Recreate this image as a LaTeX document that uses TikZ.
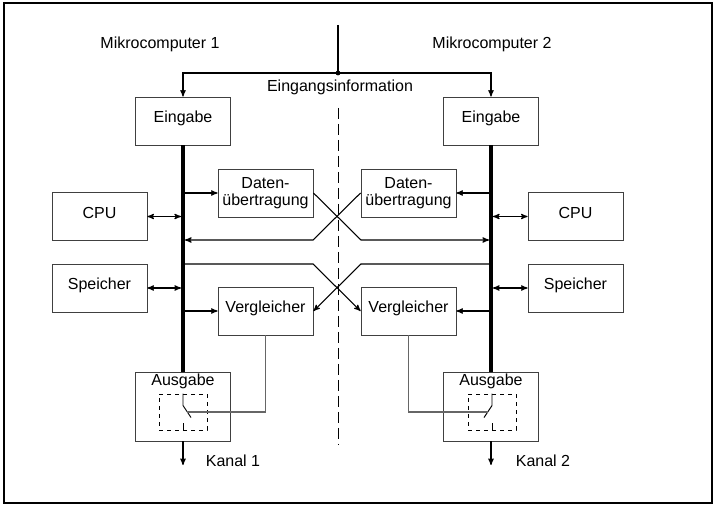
\documentclass[tikz,border=0pt]{standalone}
\usepackage{fontspec}
\setmainfont{Liberation Sans}
\usepackage{tikz}
\usetikzlibrary{positioning}
\usetikzlibrary{arrows}

\tikzset{
  block/.style={draw=black!75, line width=0.7pt, minimum width=71.25pt, minimum height=36pt, align=center, inner sep=1pt},
  label block/.style={block, text height=9pt, text depth=6.5pt},
  outbox/.style={block, minimum height=51.75pt},
  switchbox/.style={draw, dashed, line width=0.7pt, minimum width=36pt, minimum height=27pt, inner sep=0pt},
  bus/.style={line width=3pt},
  ctrl/.style={draw=black!60, line width=1pt},
  tobus/.style={shorten >=1.5pt},
}

\begin{document}
\begin{tikzpicture}[x=0.75pt,y=-0.75pt,>=stealth',line width=0.8pt,font=\fontsize{12pt}{13pt}\selectfont]
\useasboundingbox (0,0) rectangle (715,506);
\draw (4,3) rectangle (712,503);

\node (mc_1) at (160,44) {Mikrocomputer 1};
\node (mc_2) at (492,44) {Mikrocomputer 2};
\coordinate (src) at (338,25);
\coordinate (dot) at (338,73);
\node (info) at (340,87) {Eingangsinformation};

\node[label block] (ein_1) at (183,121)   {Eingabe};
\node[label block] (ein_2) at (491,121)   {Eingabe};
\node[block]       (dat_1) at (265.5,193) {Daten-\\übertragung};
\node[block]       (dat_2) at (408.5,193) {Daten-\\übertragung};
\node[label block] (cpu_1) at (99.5,216.5) {CPU};
\node[label block] (cpu_2) at (575.5,216.5) {CPU};
\node[label block] (sp_1)  at (99.5,288)  {Speicher};
\node[label block] (sp_2)  at (575.5,288) {Speicher};
\node[label block] (ver_1) at (265.5,311) {Vergleicher};
\node[label block] (ver_2) at (408.5,311) {Vergleicher};
\node[outbox] (aus_1) at (183,406.5) {};
\node[outbox] (aus_2) at (491,406.5) {};
\node[below=1.5pt of aus_1.north, inner sep=0pt] (aus_1t) {Ausgabe};
\node[below=1.5pt of aus_2.north, inner sep=0pt] (aus_2t) {Ausgabe};
\node[switchbox] (sw_1) at (183,412) {};
\node[switchbox] (sw_2) at (492,412) {};
\coordinate (out_1) at (183,465);
\coordinate (out_2) at (491,465);
\node (k_1) at (233,461) {Kanal 1};
\node (k_2) at (543,461) {Kanal 2};

% separation line
\draw[dash pattern=on 8pt off 4pt, line width=0.7pt] (338,108) -- (338,445);

% input
\draw (src) -- (dot);
\fill (dot) circle (2.4);
\draw[->] (dot) -| (ein_1);
\draw[->] (dot) -| (ein_2);

% busses
\draw[bus] (ein_1) -- (aus_1);
\draw[bus] (ein_2) -- (aus_2);

\draw[<->,tobus] (cpu_1) -- (cpu_1 -| ein_1);
\draw[<->,tobus] (cpu_2) -- (cpu_2 -| ein_2);
\draw[<->,tobus] (sp_1) -- (sp_1 -| ein_1);
\draw[<->,tobus] (sp_2) -- (sp_2 -| ein_2);
\draw[->] (dat_1.west -| ein_1) -- (dat_1.west);
\draw[->] (dat_2.east -| ein_2) -- (dat_2.east);
\draw[->] (ver_1.west -| ein_1) -- (ver_1.west);
\draw[->] (ver_2.east -| ein_2) -- (ver_2.east);

% cross links
\coordinate (cr_1) at (313,240);
\coordinate (cr_2) at (361,240);
\coordinate (cr_3) at (313,264);
\coordinate (cr_4) at (361,264);
\draw[->,tobus] (dat_1.east) -- (cr_2) -- (cr_2 -| ein_2);
\draw[->,tobus] (dat_2.west) -- (cr_1) -- (cr_1 -| ein_1);
\draw[->] (cr_3 -| ein_1) -- (cr_3) -- (ver_2.west);
\draw[->] (cr_4 -| ein_2) -- (cr_4) -- (ver_1.east);

% switches
\coordinate (bl_1) at (187,412);
\coordinate (bl_2) at (488,412);
\draw[line width=0.7pt] (sw_1.north) -- ++(0,12) -- ++(8,12);
\draw[line width=0.7pt] (sw_1.south) -- ++(0,-7);
\draw[line width=0.7pt] (sw_2.north) -- ++(0,12) -- ++(-8,12);
\draw[line width=0.7pt] (sw_2.south) -- ++(0,-7);
\draw[ctrl] (ver_1.south) |- (bl_1);
\draw[ctrl] (ver_2.south) |- (bl_2);

% outputs
\draw[->] (aus_1) -- (out_1);
\draw[->] (aus_2) -- (out_2);
\end{tikzpicture}
\end{document}
